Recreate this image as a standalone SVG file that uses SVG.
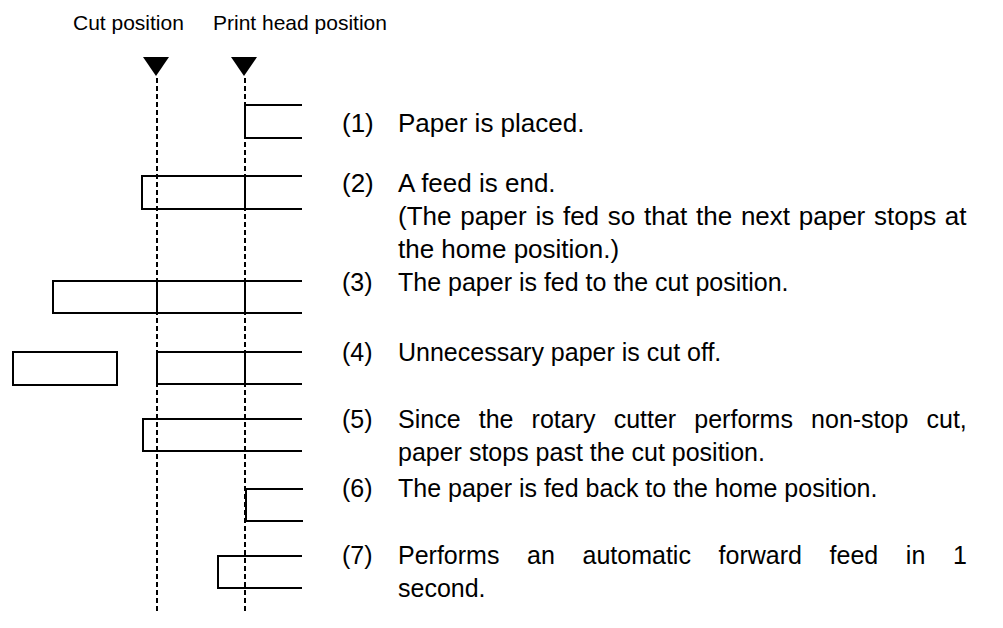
<svg xmlns="http://www.w3.org/2000/svg" width="1003" height="628" viewBox="0 0 1003 628">
<style>
.hdr{font-family:"Liberation Sans",Arial,sans-serif;font-size:21px;fill:#000}
.txt{font-family:"Liberation Sans",Arial,sans-serif;font-size:26px;fill:#000}
.txs{font-family:"Liberation Sans",Arial,sans-serif;font-size:25px;fill:#000}
.paper{fill:none;stroke:#000;stroke-width:2}
.dash{fill:none;stroke:#000;stroke-width:2;stroke-dasharray:5 3}
.tri{fill:#000}
</style>
<rect width="1003" height="628" fill="#fff"/>
<g id="headers">
<text class="hdr" x="73" y="30">Cut position</text>
<text class="hdr" x="213" y="30">Print head position</text>
</g>
<g id="markers">
<polygon class="tri" points="143,57 169,57 156,76"/>
<polygon class="tri" points="231,57 257,57 244,76"/>
</g>
<g id="connectors">
<line class="dash" x1="157" y1="78" x2="157" y2="614"/>
<line class="dash" x1="245" y1="78" x2="245" y2="614"/>
</g>
<g id="step1">
<path class="paper" d="M302,105 H245 V138 H302"/>
<text class="txt" x="342" y="132">(1)</text>
<text class="txt" x="398" y="132">Paper is placed.</text>
</g>
<g id="step2">
<path class="paper" d="M302,176 H142 V209 H302 M245,176 V209"/>
<text class="txt" x="342" y="192">(2)</text>
<text class="txt" x="398" y="192">A feed is end.</text>
<text class="txt" x="398" y="225" word-spacing="1.5">(The paper is fed so that the next paper stops at</text>
<text class="txt" x="398" y="258">the home position.)</text>
</g>
<g id="step3">
<path class="paper" d="M302,281 H53 V313 H302 M157,281 V313 M245,281 V313"/>
<text class="txs" x="342" y="291">(3)</text>
<text class="txs" x="398" y="291">The paper is fed to the cut position.</text>
</g>
<g id="step4">
<rect class="paper" x="13" y="352" width="104" height="33"/>
<path class="paper" d="M302,352 H157 V384 H302 M245,352 V384"/>
<text class="txs" x="342" y="361">(4)</text>
<text class="txs" x="398" y="361">Unnecessary paper is cut off.</text>
</g>
<g id="step5">
<path class="paper" d="M302,419 H143 V451 H302"/>
<text class="txs" x="342" y="428">(5)</text>
<text class="txs" x="398" y="428" word-spacing="11.2">Since the rotary cutter performs non-stop cut,</text>
<text class="txs" x="398" y="461">paper stops past the cut position.</text>
</g>
<g id="step6">
<path class="paper" d="M303,489 H246 V521 H303"/>
<text class="txs" x="342" y="497">(6)</text>
<text class="txs" x="398" y="497">The paper is fed back to the home position.</text>
</g>
<g id="step7">
<path class="paper" d="M302,556 H218 V588 H302"/>
<text class="txs" x="342" y="564">(7)</text>
<text class="txs" x="398" y="564" word-spacing="20.7">Performs an automatic forward feed in 1</text>
<text class="txs" x="398" y="597">second.</text>
</g>
</svg>
